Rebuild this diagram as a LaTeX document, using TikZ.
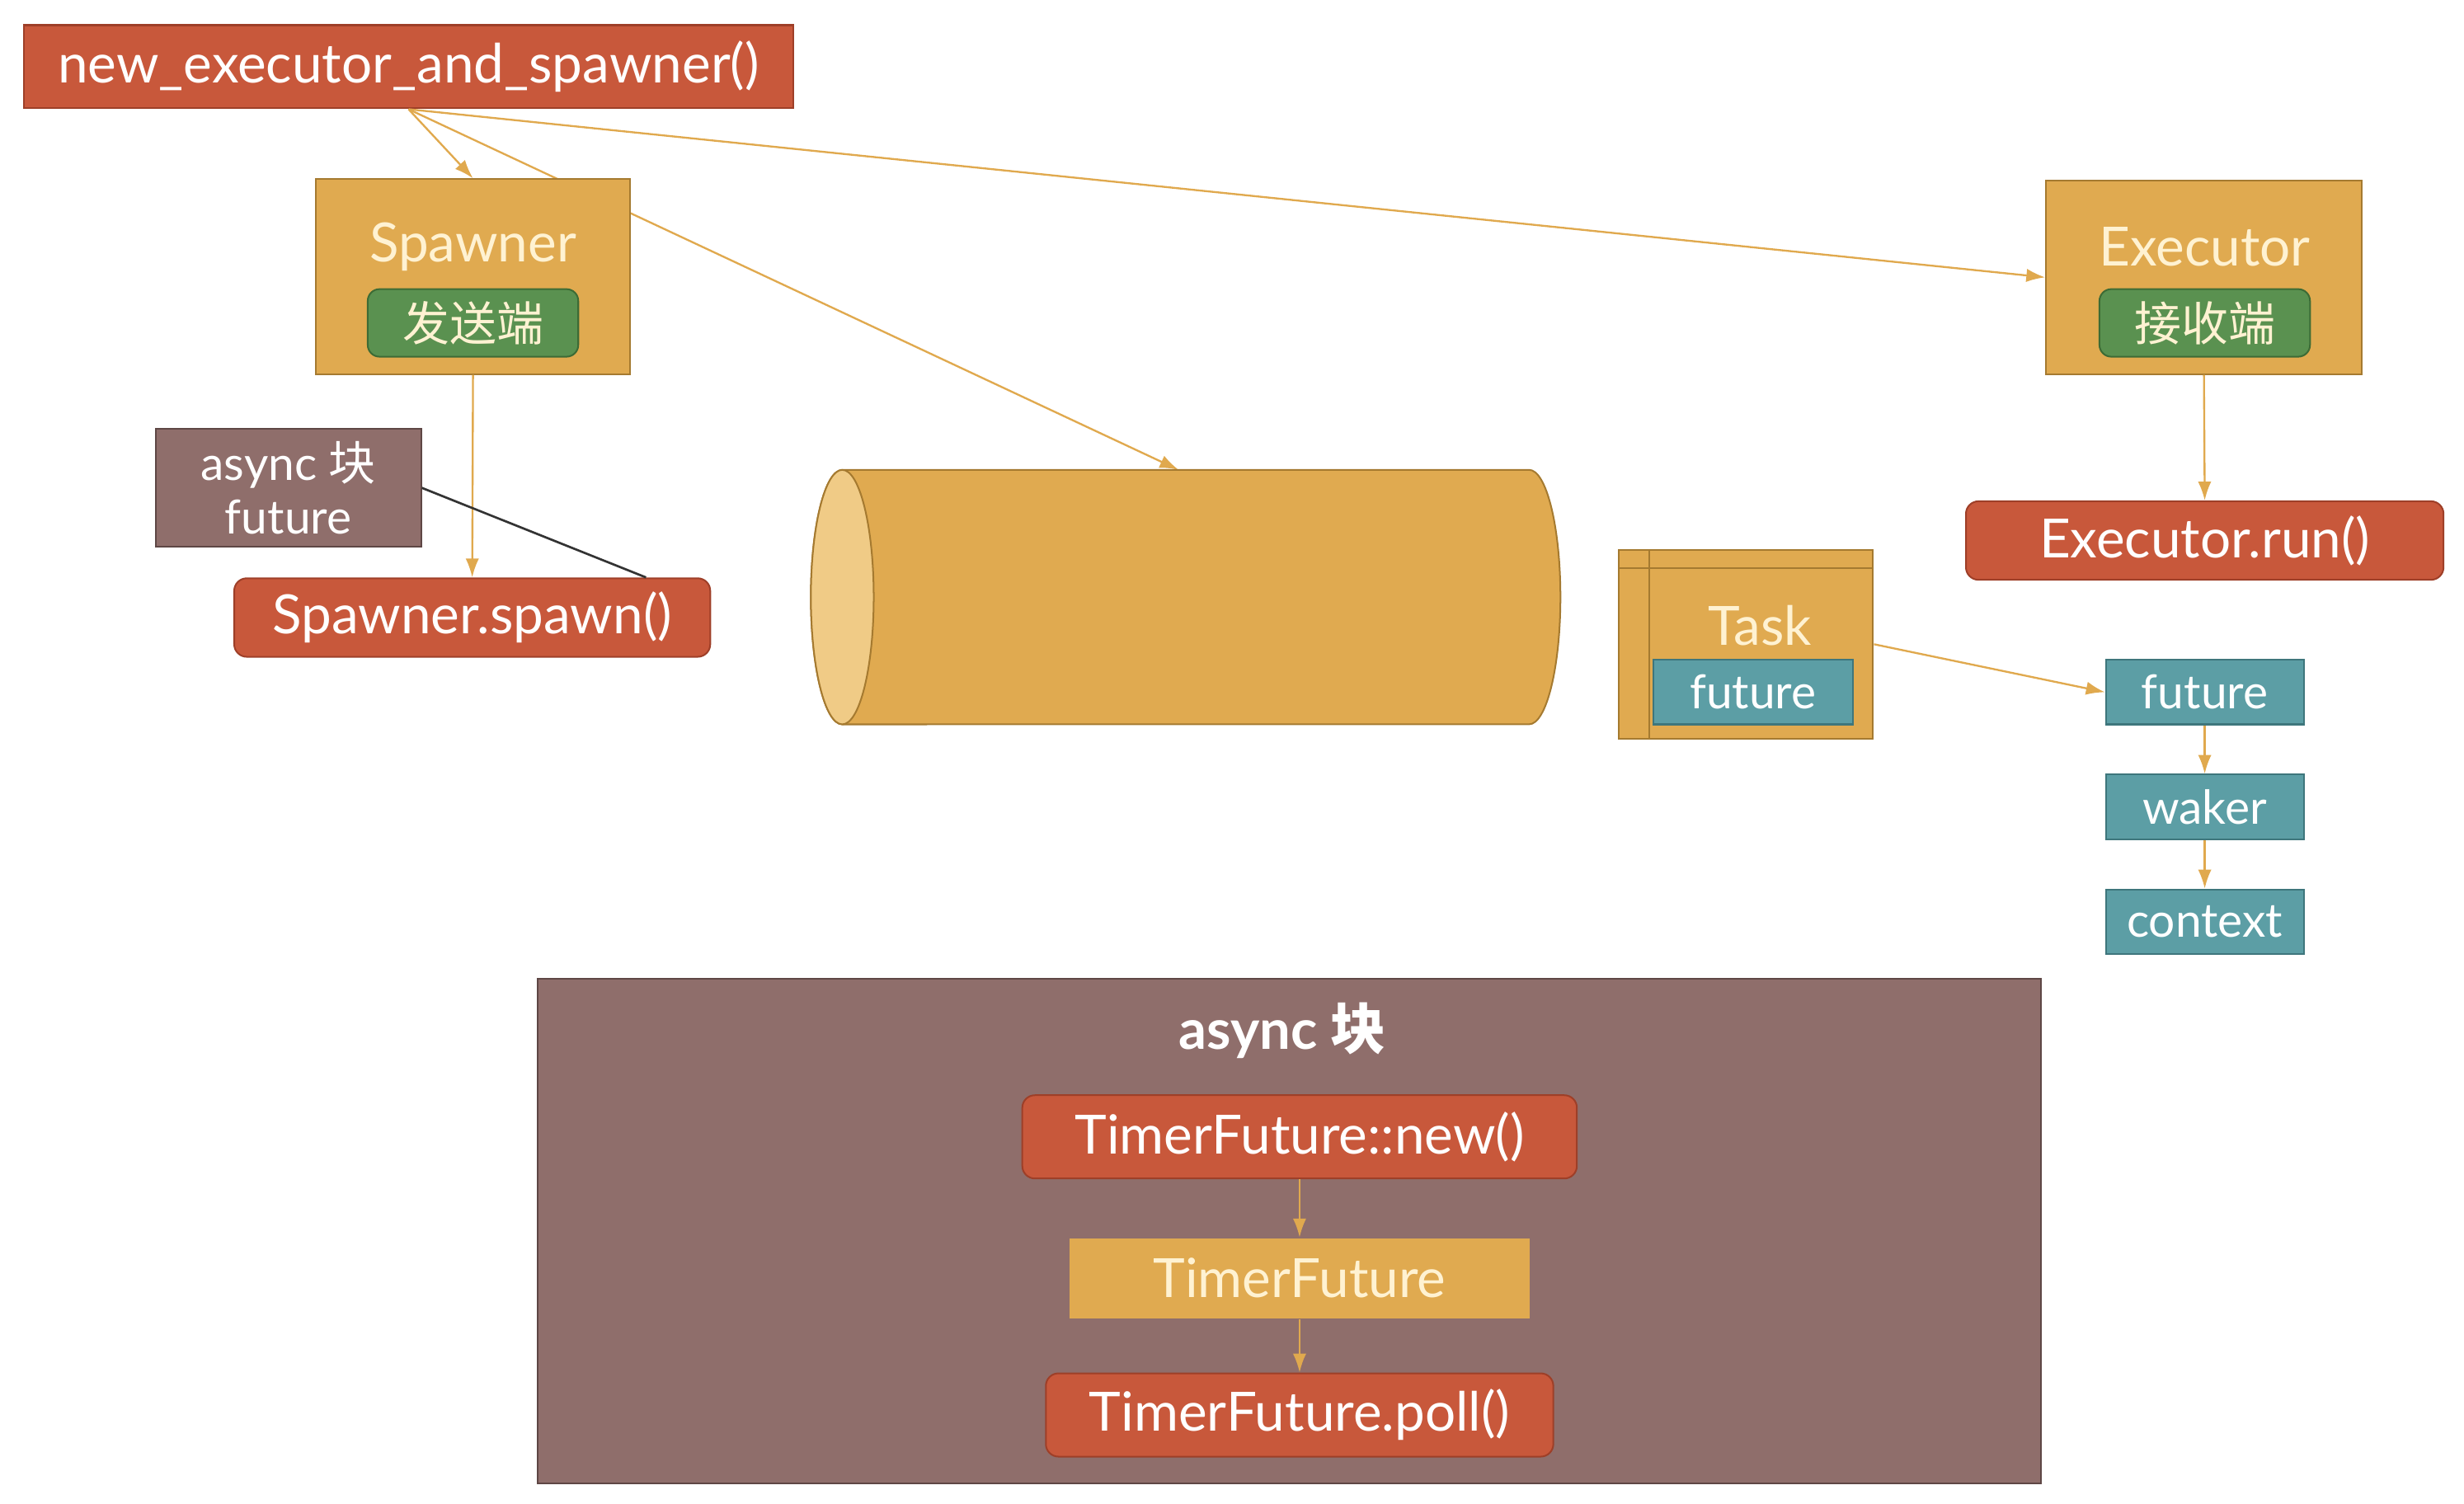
\documentclass[tikz,border=0pt]{standalone}
\usepackage{fontspec}
\setsansfont{Lato}
\newfontfamily\cjk{Noto Sans CJK SC}
\usetikzlibrary{arrows.meta,backgrounds}

\definecolor{boxred}{HTML}{C8583B}
\definecolor{boxredline}{HTML}{9E3F28}
\definecolor{boxgold}{HTML}{E0AA50}
\definecolor{boxgoldline}{HTML}{A57A30}
\definecolor{boxgreen}{HTML}{5A9150}
\definecolor{boxgreenline}{HTML}{3D6B35}
\definecolor{boxteal}{HTML}{5C9EA5}
\definecolor{boxtealline}{HTML}{3E767C}
\definecolor{boxmauve}{HTML}{8F6E6B}
\definecolor{boxmauveline}{HTML}{5E4745}
\definecolor{capgold}{HTML}{F0CB86}
\definecolor{cream}{HTML}{FFF2D2}
\definecolor{linegold}{HTML}{E0A94E}

\tikzset{
	bigtext/.style={font=\sffamily\fontsize{19.6}{22}\selectfont},
	smalltext/.style={font=\sffamily\fontsize{17}{19.5}\selectfont},
	redbox/.style={rectangle, rounded corners=0.16cm, draw=boxredline, fill=boxred, text=white, line width=0.6pt, bigtext},
	goldbox/.style={rectangle, draw=boxgoldline, fill=boxgold, text=cream, line width=0.6pt, bigtext},
	goldtext/.style={text=cream, bigtext},
	greenbox/.style={rectangle, rounded corners=0.15cm, draw=boxgreenline, fill=boxgreen, text=cream, line width=0.6pt, smalltext},
	tealbox/.style={rectangle, draw=boxtealline, fill=boxteal, text=white, line width=0.6pt, smalltext},
	mauvebox/.style={rectangle, draw=boxmauveline, fill=boxmauve, text=white, line width=0.6pt, smalltext},
	link/.style={draw=linegold, line width=0.7pt, -{Latex[length=2.4mm,width=1.7mm]}},
	darkline/.style={draw=black!80, line width=0.8pt}
}

\begin{document}
\begin{tikzpicture}[x=0.02cm, y=-0.02cm]
	\useasboundingbox (0,0) rectangle (1568,957);

	\node[redbox, sharp corners, minimum width=9.8cm, minimum height=1.06cm] (newexec) at (260,42.5) {new\_executor\_and\_spawner()};

	\node[goldbox, minimum width=4cm, minimum height=2.48cm] (spawner) at (301,176) {};
	\node[goldtext] (spawnerlabel) at (301,157) {Spawner};
	\node[greenbox, minimum width=2.68cm, minimum height=0.86cm] (sender) at (301,205.5) {\cjk 发送端};

	\node[goldbox, minimum width=4.02cm, minimum height=2.46cm] (executor) at (1402.5,176.5) {};
	\node[goldtext] (executorlabel) at (1403,157) {Executor};
	\node[greenbox, minimum width=2.68cm, minimum height=0.86cm] (receiver) at (1403,205.5) {\cjk 接收端};

	\node[redbox, minimum width=6.08cm, minimum height=1cm] (run) at (1403,344) {Executor.run()};

	\node[mauvebox, minimum width=3.38cm, minimum height=1.5cm, align=center] (asyncfut) at (183.5,310.5) {async {\cjk 块}\\future};
	\node[redbox, minimum width=6.06cm, minimum height=1cm] (spawn) at (300.5,393) {Spawner.spawn()};

	\filldraw[fill=boxgold, draw=boxgoldline, line width=0.6pt] (536,299) -- (973,299) arc[start angle=90, end angle=-90, x radius=0.4cm, y radius=1.62cm] -- (536,461) arc[start angle=270, end angle=90, x radius=0.4cm, y radius=1.62cm] -- cycle;
	\filldraw[fill=capgold, draw=boxgoldline, line width=0.6pt] (536,380) ellipse[x radius=0.4cm, y radius=1.62cm];
	\coordinate (queue) at (750,299);

	\node[goldbox, minimum width=3.24cm, minimum height=2.4cm] (task) at (1111,410) {};
	\draw[boxgoldline, line width=0.6pt] ([xshift=0.4cm]task.north west) -- ([xshift=0.4cm]task.south west);
	\draw[boxgoldline, line width=0.6pt] ([yshift=-0.24cm]task.north west) -- ([yshift=-0.24cm]task.north east);
	\node[goldtext] (tasklabel) at (1120,398) {Task};
	\node[tealbox, minimum width=2.54cm, minimum height=0.82cm] (taskfut) at (1115.5,440.5) {future};

	\node[tealbox, minimum width=2.52cm, minimum height=0.82cm] (fut) at (1403,440.5) {future};
	\node[tealbox, minimum width=2.52cm, minimum height=0.82cm] (waker) at (1403,513.5) {waker};
	\node[tealbox, minimum width=2.52cm, minimum height=0.82cm] (ctx) at (1403,586.5) {context};

	\node[mauvebox, minimum width=19.14cm, minimum height=6.42cm] (block) at (820.5,783.5) {};
	\node[text=white, font=\sffamily\bfseries\fontsize{20}{24}\selectfont] (blocktitle) at (816,656) {async {\cjk\bfseries 块}};
	\node[redbox, minimum width=7.06cm, minimum height=1.06cm] (tnew) at (827,723.5) {TimerFuture::new()};
	\node[goldbox, draw=none, minimum width=5.86cm, minimum height=1.02cm] (tfut) at (827,813.5) {TimerFuture};
	\node[redbox, minimum width=6.46cm, minimum height=1.06cm] (tpoll) at (827,900.5) {TimerFuture.poll()};

	\begin{scope}[on background layer]
		\draw[link] (newexec.south) -- (queue);
	\end{scope}
	\draw[link] (newexec.south) -- (spawner.north);
	\draw[link] (newexec.south) -- (executor.west);
	\draw[link] (spawner.south) -- (spawn.north);
	\draw[darkline] (asyncfut.east) -- (spawn.13);
	\draw[link] (executor.south) -- (run.north);
	\draw[link] (task.east) -- (fut.west);
	\draw[link] (fut.south) -- (waker.north);
	\draw[link] (waker.south) -- (ctx.north);
	\draw[link] (tnew.south) -- (tfut.north);
	\draw[link] (tfut.south) -- (tpoll.north);
\end{tikzpicture}
\end{document}
